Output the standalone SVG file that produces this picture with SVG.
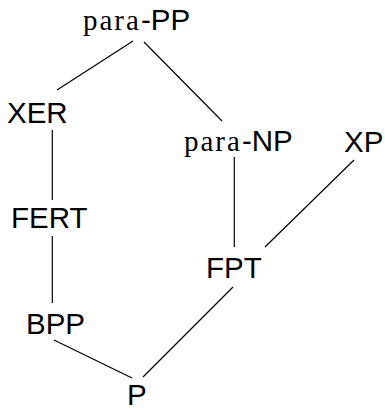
<svg xmlns="http://www.w3.org/2000/svg" width="385" height="410" viewBox="0 0 385 410">
<style>
text{font-family:"Liberation Sans",Arial,sans-serif;font-size:29.5px;fill:#000}
.rm{font-family:"Liberation Serif","Times New Roman",serif;font-size:29px;letter-spacing:2px}
.edge{stroke:#000;stroke-width:1.2;fill:none}
</style>
<rect width="385" height="410" fill="#fff"/>
<g id="connectors">
<line class="edge" x1="133" y1="41" x2="57" y2="90"/>
<line class="edge" x1="144" y1="42" x2="222" y2="121"/>
<line class="edge" x1="52.3" y1="130" x2="52.3" y2="200"/>
<line class="edge" x1="52.3" y1="236" x2="52.3" y2="303"/>
<line class="edge" x1="54" y1="340" x2="132" y2="378"/>
<line class="edge" x1="234.3" y1="157" x2="234.3" y2="247"/>
<line class="edge" x1="354" y1="160" x2="265" y2="247"/>
<line class="edge" x1="233" y1="287" x2="143" y2="377"/>
</g>
<g id="paraPP"><text x="83" y="30"><tspan class="rm">para</tspan>-PP</text></g>
<g id="XER"><text x="7" y="123">XER</text></g>
<g id="paraNP"><text x="184" y="151"><tspan class="rm">para</tspan>-NP</text></g>
<g id="XP"><text x="344" y="152">XP</text></g>
<g id="FERT"><text x="11" y="228">FERT</text></g>
<g id="FPT"><text x="206" y="278">FPT</text></g>
<g id="BPP"><text x="26" y="334">BPP</text></g>
<g id="P"><text x="127" y="405">P</text></g>
</svg>
